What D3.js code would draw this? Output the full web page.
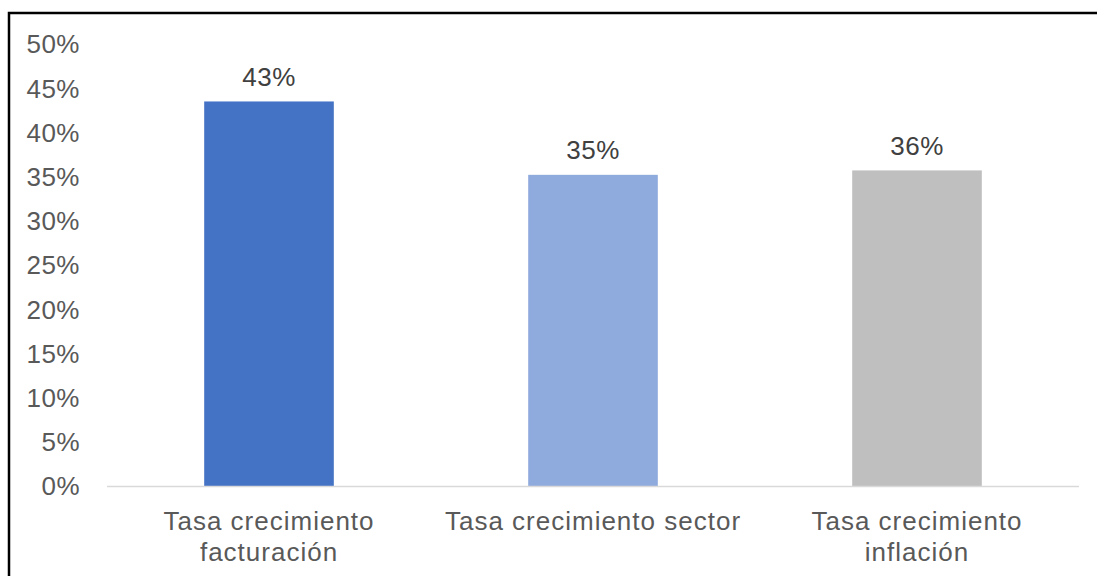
<!DOCTYPE html>
<html>
<head>
<meta charset="utf-8">
<script src="https://cdn.jsdelivr.net/npm/d3@7"></script>
<style>
  body { margin: 0; background: #fff; }
  text { font-family: "Liberation Sans", Arial, sans-serif; fill: #595959; }
</style>
</head>
<body>
<script>
// chart data
var categories = [["Tasa crecimiento", "facturación"], ["Tasa crecimiento sector"], ["Tasa crecimiento", "inflación"]];
var values = [0.435, 0.352, 0.357];
var valueLabels = ["43%", "35%", "36%"];
var barColors = ["#4472C4", "#8FAADC", "#BFBFBF"];
var yTicks = [0, 0.05, 0.10, 0.15, 0.20, 0.25, 0.30, 0.35, 0.40, 0.45, 0.50];

var w = 1097, h = 576;

var svg = d3.select("body").append("svg").attr("width", w).attr("height", h);

// outer frame (runs off the right and bottom edges)
svg.append("rect").attr("x", 9).attr("y", 13).attr("width", 1200).attr("height", 700)
  .attr("fill", "none").attr("stroke", "#000").attr("stroke-width", 2.5);

var x = d3.scaleBand().domain(d3.range(values.length)).range([107, 1079])
  .paddingInner(0.6).paddingOuter(0.3);
var y = d3.scaleLinear().domain([0, 0.5]).range([486, 44]);

// y tick labels
svg.selectAll(".ytick").data(yTicks).enter().append("text")
  .attr("class", "ytick")
  .attr("x", 80).attr("y", function(d){ return y(d); })
  .attr("dy", "0.36em").attr("text-anchor", "end")
  .style("font-size", "26px").style("letter-spacing", "0.5px")
  .text(d3.format(".0%"));

// bars
svg.selectAll(".bar").data(values).enter().append("rect")
  .attr("class", "bar")
  .attr("x", function(d, i){ return x(i); })
  .attr("width", x.bandwidth())
  .attr("y", function(d){ return y(d); })
  .attr("height", function(d){ return y(0) - y(d); })
  .attr("fill", function(d, i){ return barColors[i]; });

// baseline
svg.append("line").attr("x1", 107).attr("x2", 1079).attr("y1", y(0) + 0.5).attr("y2", y(0) + 0.5)
  .attr("stroke", "#D9D9D9").attr("stroke-width", 1.5);

// value labels
svg.selectAll(".vlab").data(values).enter().append("text")
  .attr("class", "vlab")
  .attr("x", function(d, i){ return x(i) + x.bandwidth() / 2; })
  .attr("y", function(d){ return y(d) - 25; })
  .attr("dy", "0.36em").attr("text-anchor", "middle")
  .style("font-size", "26px").style("fill", "#404040").style("letter-spacing", "0.5px")
  .text(function(d, i){ return valueLabels[i]; });

// category labels
categories.forEach(function(lines, i){
  var t = svg.append("text")
    .attr("x", x(i) + x.bandwidth() / 2)
    .attr("y", 521)
    .attr("text-anchor", "middle")
    .style("font-size", "26px").style("letter-spacing", "1px");
  lines.forEach(function(line, j){
    t.append("tspan").attr("x", x(i) + x.bandwidth() / 2).attr("dy", j == 0 ? "0.36em" : 31).text(line);
  });
});
</script>
</body>
</html>
